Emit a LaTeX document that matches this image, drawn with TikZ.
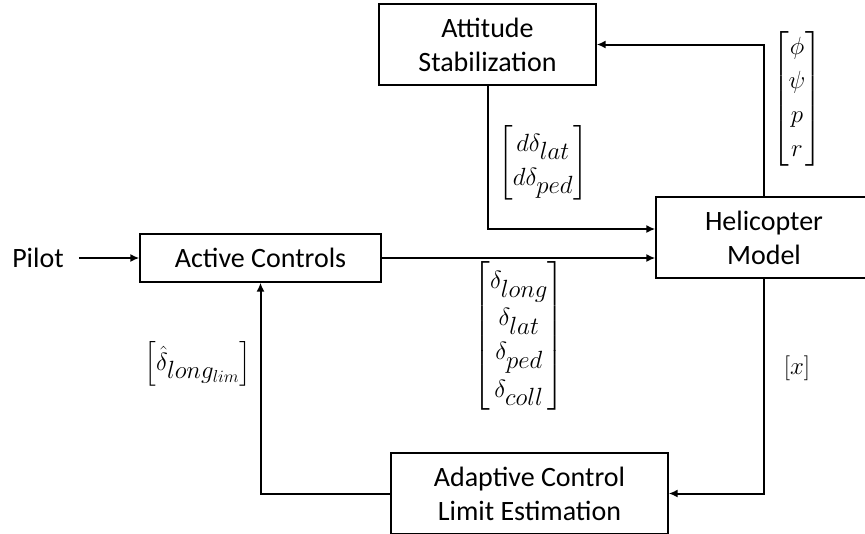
\documentclass[tikz,border=0pt]{standalone}
\usepackage{amsmath}
\usepackage{fontspec}
\setmainfont{Carlito}
\usetikzlibrary{arrows.meta,calc}
\begin{document}
\begin{tikzpicture}[x=1pt,y=-1pt,
  every node/.style={font=\fontsize{28}{34}\selectfont},
  blockbox/.style={draw,line width=1.3pt,minimum height=81pt,align=center,inner sep=0pt},
  conn/.style={line width=2pt},
  arr/.style={conn,-{Latex[length=9pt,width=8pt]}},
  lbl/.style={inner sep=0pt,font=\fontsize{33}{34}\selectfont}]
\useasboundingbox (0,0) rectangle (865,533);
\node[blockbox,minimum width=217pt] (att) at (487.5,44.5) {Attitude\\Stabilization};
\node[blockbox,minimum width=216pt] (heli) at (764,237.5) {Helicopter\\Model};
\node[blockbox,minimum width=241pt,minimum height=48pt] (act) at (260.5,258) {Active Controls};
\node[blockbox,minimum width=277pt] (ada) at (529.5,493.5) {Adaptive Control\\Limit Estimation};
\node[inner ysep=0pt,inner xsep=15pt] (pilot) at (38,258) {Pilot};
\coordinate (h1) at ($(heli.west)+(0,-8.5)$);
\draw[arr] (pilot.east) -- (act.west);
\draw[arr] (act.east) -- (act.east -| heli.west);
\draw[arr] (att.south) |- (h1);
\draw[arr] (heli.north) |- (att.east);
\draw[arr] (heli.south) |- (ada.east);
\draw[arr] (ada.west) -| (act.south);
\node[lbl] (m1) at (543,163) {$\begin{bmatrix} d\delta_{lat}\\ d\delta_{ped}\end{bmatrix}$};
\node[lbl] (m2) at (797,99) {$\begin{bmatrix} \phi\\ \psi\\ p\\ r\end{bmatrix}$};
\node[lbl] (m3) at (519,336) {$\begin{bmatrix} \delta_{long}\\ \delta_{lat}\\ \delta_{ped}\\ \delta_{coll}\end{bmatrix}$};
\node[lbl] (m4) at (198,364) {$\left[\hat{\delta}_{long_{lim}}\right]$};
\node[lbl] (m5) at (797,368) {$[x]$};
\end{tikzpicture}
\end{document}
